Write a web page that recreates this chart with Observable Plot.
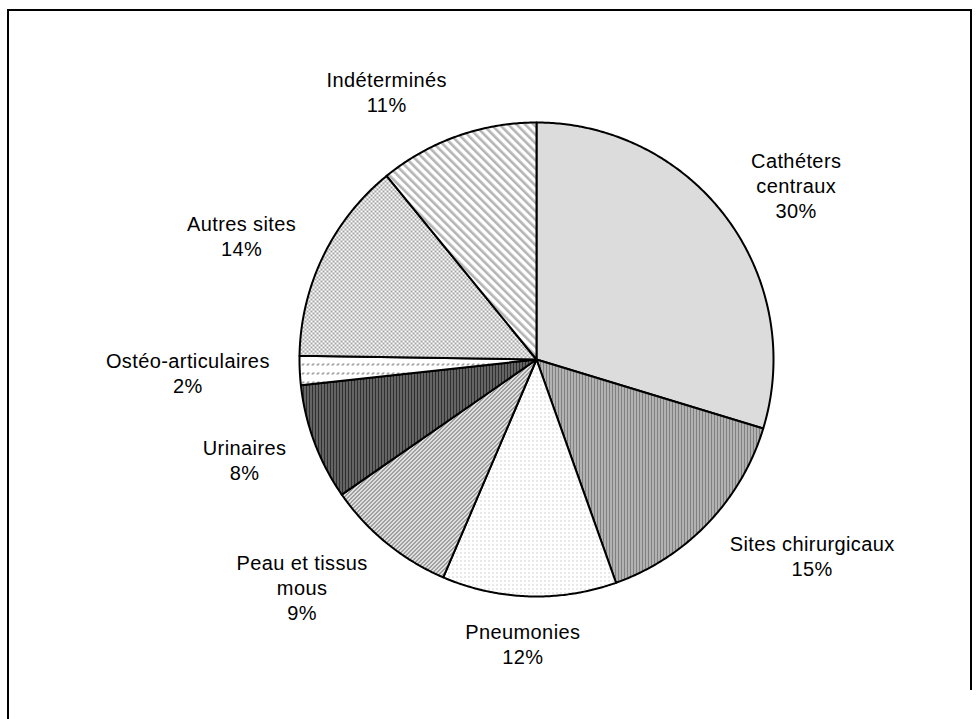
<!DOCTYPE html>
<html><head><meta charset="utf-8">
<script src="https://cdn.jsdelivr.net/npm/d3@7"></script>
<script src="https://cdn.jsdelivr.net/npm/@observablehq/plot@0.6"></script>
<style>
body{margin:0;background:#fff;}
#wrap{position:relative;width:979px;height:719px;overflow:hidden;}
#frameTL{position:absolute;left:7px;top:9px;width:965px;height:720px;border-top:2px solid #000;border-left:2px solid #000;box-sizing:border-box;pointer-events:none;}
#frameR{position:absolute;left:970px;top:9px;width:2px;height:681px;background:#000;pointer-events:none;}
</style>
</head><body>
<svg width="0" height="0" style="position:absolute">
<defs>
  <pattern id="p0" width="2" height="2" patternUnits="userSpaceOnUse">
    <rect width="2" height="2" fill="#fff"/><rect x="0" y="0" width="1" height="1" fill="#b8b8b8"/><rect x="1" y="1" width="1" height="1" fill="#b8b8b8"/>
  </pattern>
  <pattern id="p1" width="3" height="2" patternUnits="userSpaceOnUse">
    <rect width="3" height="2" fill="#808080"/><rect x="1" y="0" width="1" height="1" fill="#fff"/><rect x="1" y="1" width="1" height="1" fill="#c8c8c8"/>
  </pattern>
  <pattern id="p2" width="4" height="4" patternUnits="userSpaceOnUse">
    <rect width="4" height="4" fill="#fff"/><rect x="0" y="0" width="1" height="1" fill="#a8a8a8"/>
  </pattern>
  <pattern id="p3" width="4" height="4" patternUnits="userSpaceOnUse">
    <rect width="4" height="4" fill="#fff"/>
    <rect x="0" y="0" width="1" height="1" fill="#808080"/><rect x="3" y="0" width="1" height="1" fill="#808080"/>
    <rect x="2" y="1" width="2" height="1" fill="#808080"/><rect x="1" y="2" width="2" height="1" fill="#808080"/>
    <rect x="0" y="3" width="2" height="1" fill="#808080"/>
  </pattern>
  <pattern id="p4" width="3" height="2" patternUnits="userSpaceOnUse">
    <rect width="3" height="2" fill="#303030"/><rect x="1" y="0" width="1" height="1" fill="#fff"/>
  </pattern>
  <pattern id="p5" width="5" height="9" patternUnits="userSpaceOnUse">
    <rect width="5" height="9" fill="#fff"/><rect x="2" y="3" width="2" height="1" fill="#888"/><rect x="1" y="4" width="2" height="1" fill="#888"/>
  </pattern>
  <pattern id="p6" width="4" height="4" patternUnits="userSpaceOnUse">
    <rect width="4" height="4" fill="#fff"/><rect x="0" y="0" width="2" height="2" fill="#a4a4a4"/><rect x="2" y="2" width="2" height="2" fill="#a4a4a4"/>
  </pattern>
  <pattern id="p7" width="6" height="6" patternUnits="userSpaceOnUse" patternTransform="rotate(-45)">
    <rect width="6" height="6" fill="#fff"/><rect x="0" y="0" width="2.6" height="6" fill="#b4b4b4"/>
  </pattern>
</defs>
</svg>
<div id="wrap"><div id="chart"></div><div id="frameTL"></div><div id="frameR"></div></div>
<script>
// ---- data ----
const categories = ["Cathéters centraux","Sites chirurgicaux","Pneumonies","Peau et tissus mous","Urinaires","Ostéo-articulaires","Autres sites","Indéterminés"];
const labelLines = [["Cathéters","centraux"],["Sites chirurgicaux"],["Pneumonies"],["Peau et tissus","mous"],["Urinaires"],["Ostéo-articulaires"],["Autres sites"],["Indéterminés"]];
const values = [30, 15, 12, 9, 8, 2, 14, 11];
const patternIds = ["p0","p1","p2","p3","p4","p5","p6","p7"];

// ---- layout ----
const W = 979, H = 719;
const cx = 536, cy = 359, R = 237;
const fontSize = 20, lineH = 25, letterSpacing = 0.4, gap = 30;

const arcs = d3.pie().sort(null).value(d => d)(values);

// slice polygons in unit-circle data coordinates
const slices = arcs.map((a, i) => {
  const pts = [{x: 0, y: 0}];
  const n = Math.max(2, Math.ceil((a.endAngle - a.startAngle) / (Math.PI / 360)));
  for (let k = 0; k <= n; k++) {
    const t = a.startAngle + (a.endAngle - a.startAngle) * k / n;
    pts.push({x: Math.sin(t), y: Math.cos(t)});
  }
  pts.push({x: 0, y: 0});
  return pts;
});

const ctx = document.createElement("canvas").getContext("2d");
ctx.font = `${fontSize}px "Liberation Sans", Arial, sans-serif`;
const textW = s => ctx.measureText(s).width + s.length * letterSpacing;

// "outside end" label placement: anchor on the mid-angle just outside the rim,
// box pushed outward horizontally (full half-width unless near vertical) and partially vertically
const labels = arcs.map((a, i) => {
  const lines = [...labelLines[i], `${values[i]}%`];
  const w = d3.max(lines, textW), h = lines.length * lineH;
  const m = (a.startAngle + a.endAngle) / 2;
  const ux = Math.sin(m), uy = Math.cos(m);
  const offX = Math.sign(ux) * (w / 2) * Math.min(1, 3 * Math.abs(ux));
  const offY = uy * (h / 2) * 0.7;
  return {
    x: (ux * (R + gap) + offX) / R,
    y: (uy * (R + gap) + offY) / R,
    text: lines.join("\n")
  };
});

const chart = Plot.plot({
  width: W, height: H,
  style: {background: "transparent", fontFamily: '"Liberation Sans", Arial, sans-serif', letterSpacing: letterSpacing + "px"},
  x: {domain: [-1, 1], range: [cx - R, cx + R], axis: null},
  y: {domain: [-1, 1], range: [cy + R, cy - R], axis: null},
  marks: [
    ...slices.map((pts, i) => Plot.line(pts, {x: "x", y: "y", fill: `url(#${patternIds[i]})`, stroke: "black", strokeWidth: 2, strokeLinejoin: "round"})),
    Plot.text(labels, {x: "x", y: "y", text: "text", fontSize, lineHeight: lineH / fontSize, textAnchor: "middle", lineAnchor: "middle", fill: "black"})
  ]
});
document.getElementById("chart").appendChild(chart);
</script>
</body></html>
